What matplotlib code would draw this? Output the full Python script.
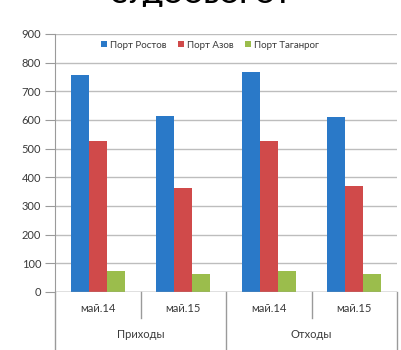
import matplotlib.pyplot as plt
import numpy as np

plt.rcParams['font.family'] = ['Lato', 'DejaVu Sans']

# данные: приходы/отходы судов по портам
periods = ['май.14', 'май.15', 'май.14', 'май.15']
groups = ['Приходы', 'Отходы']
rostov = [757, 615, 766, 609]
azov = [527, 362, 528, 371]
taganrog = [74, 62, 74, 62]
ports = ['Порт Ростов', 'Порт Азов', 'Порт Таганрог']
colors = ['#2a79c8', '#d04a4a', '#9bbd4c']

fig = plt.figure(figsize=(4.01, 3.5), dpi=100)
W, H = 401, 350
ax = fig.add_axes([55 / W, (H - 292) / H, (397 - 55) / W, (292 - 34) / H])

x = np.arange(len(periods))
w = 0.212
for i, (vals, name) in enumerate(zip([rostov, azov, taganrog], ports)):
    ax.bar(x + (i - 1) * w, vals, width=w, color=colors[i], label=name, zorder=3)

ax.set_ylim(0, 900)
ax.set_xlim(-0.5, 3.5)
ax.set_yticks(range(0, 901, 100))
ax.yaxis.grid(True, color='#bdbdbd', linewidth=1.0, zorder=0)
ax.set_xticks([])
for s in ['top', 'right', 'bottom']:
    ax.spines[s].set_visible(False)
ax.spines['left'].set_color('#9a9a9a')
ax.tick_params(axis='y', length=7, color='#9a9a9a', labelsize=8, labelcolor='#3a3a3a', pad=3)

# подписи категорий в два уровня
tr = ax.get_xaxis_transform()
for xi, p in zip(x, periods):
    ax.text(xi, -0.065, p, transform=tr, ha='center', va='center', fontsize=8, color='#3a3a3a')
for gi, g in enumerate(groups):
    ax.text(gi * 2 + 0.5, -0.165, g, transform=tr, ha='center', va='center', fontsize=8, color='#3a3a3a')

# разделители категорий
ax.plot([-0.5, -0.5], [0, -0.23], transform=tr, color='#9a9a9a', lw=1, clip_on=False)
for xs in [0.5, 2.5]:
    ax.plot([xs, xs], [0, -0.1], transform=tr, color='#9a9a9a', lw=1, clip_on=False)
for xs in [1.5, 3.5]:
    ax.plot([xs, xs], [0, -0.23], transform=tr, color='#9a9a9a', lw=1, clip_on=False)
ax.axhline(0, color='#9a9a9a', lw=1, zorder=4)

ax.legend(loc='center', bbox_to_anchor=(0.453, 0.957), ncol=3, frameon=False,
          fontsize=7, handlelength=0.6, handleheight=0.6, handletextpad=0.3,
          columnspacing=1.2, labelcolor='#3a3a3a')

# заголовок уходит за верхний край
fig.text(0.5, 1 - 3 / H, 'СУДООБОРОТ', ha='center', va='baseline',
         fontsize=18, fontweight='bold', color='black')

fig.savefig('out.png', dpi=100)
